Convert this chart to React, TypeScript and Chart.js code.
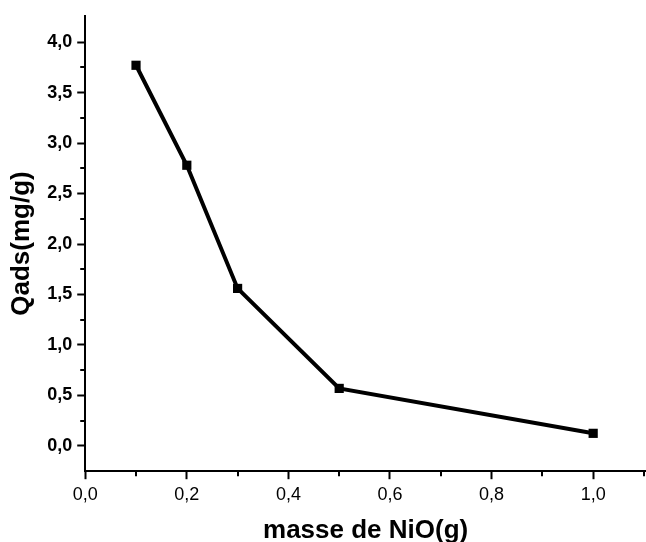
import React, { useEffect, useRef } from "react";
import { Chart, registerables } from "chart.js";

Chart.register(...registerables);

const masses = [0.1, 0.2, 0.3, 0.5, 1.0];
const qads = [3.77, 2.78, 1.56, 0.57, 0.125];
const xTickValues = [0, 0.1, 0.2, 0.3, 0.4, 0.5, 0.6, 0.7, 0.8, 0.9, 1.0, 1.1];
const yTickValues = [0, 0.25, 0.5, 0.75, 1.0, 1.25, 1.5, 1.75, 2.0, 2.25, 2.5, 2.75, 3.0, 3.25, 3.5, 3.75, 4.0];
const xTitle = "masse de NiO(g)";
const yTitle = "Qads(mg/g)";

const FONT = "'Liberation Sans', Arial, Helvetica, sans-serif";

const isMinorX = (v: number) => Math.round(v * 10) % 2 === 1;
const isMinorY = (v: number) => Math.round(v * 4) % 2 === 1;

const minorTickPlugin = {
  id: "minorTicks",
  afterDraw(chart: any) {
    const ctx = chart.ctx;
    const xs = chart.scales.x;
    const ys = chart.scales.y;
    ctx.save();
    ctx.strokeStyle = "#000";
    ctx.lineWidth = 2;
    ctx.beginPath();
    xs.ticks.forEach((t: any) => {
      if (isMinorX(t.value)) {
        const px = Math.round(xs.getPixelForValue(t.value));
        ctx.moveTo(px, xs.top);
        ctx.lineTo(px, xs.top + 5);
      }
    });
    ys.ticks.forEach((t: any) => {
      if (isMinorY(t.value)) {
        const py = Math.round(ys.getPixelForValue(t.value));
        ctx.moveTo(ys.right - 5, py);
        ctx.lineTo(ys.right, py);
      }
    });
    ctx.stroke();
    ctx.restore();
  },
};

export default function App() {
  const ref = useRef<HTMLCanvasElement | null>(null);
  useEffect(() => {
    if (!ref.current) return;
    const chart = new Chart(ref.current, {
      type: "line",
      data: {
        datasets: [
          {
            data: masses.map((m, i) => ({ x: m, y: qads[i] })),
            borderColor: "#000",
            backgroundColor: "#000",
            borderWidth: 4,
            pointStyle: "rect",
            pointRadius: 6.5,
            pointBackgroundColor: "#000",
            pointBorderWidth: 0,
            tension: 0,
            clip: false,
          },
        ],
      },
      options: {
        animation: false,
        responsive: false,
        maintainAspectRatio: false,
        layout: { autoPadding: false, padding: { top: 14, right: 0, left: 6, bottom: -4 } },
        plugins: { legend: { display: false }, tooltip: { enabled: false } },
        scales: {
          x: {
            type: "linear",
            min: 0,
            max: 1.104,
            afterBuildTicks: (s: any) => {
              s.ticks = xTickValues.map((v) => ({ value: v }));
            },
            afterFit: (s: any) => {
              s.paddingRight = 0;
            },
            border: { color: "#000", width: 2 },
            grid: {
              drawOnChartArea: false,
              drawTicks: true,
              tickLength: 8,
              tickWidth: 2,
              tickColor: (c: any) => (isMinorX(c.tick.value) ? "rgba(0,0,0,0)" : "#000"),
            },
            ticks: {
              color: "#000",
              padding: 5,
              maxRotation: 0,
              autoSkip: false,
              font: { family: FONT, size: 18 },
              callback: (v: any) => (isMinorX(Number(v)) ? "" : Number(v).toFixed(1).replace(".", ",")),
            },
            title: {
              display: true,
              text: xTitle,
              color: "#000",
              font: { family: FONT, size: 26, weight: "bold" },
              padding: { top: 4, bottom: 0 },
            },
          },
          y: {
            type: "linear",
            min: -0.25,
            max: 4.26,
            afterBuildTicks: (s: any) => {
              s.ticks = yTickValues.map((v) => ({ value: v }));
            },
            border: { color: "#000", width: 2 },
            grid: {
              drawOnChartArea: false,
              drawTicks: true,
              tickLength: 8,
              tickWidth: 2,
              tickColor: (c: any) => (isMinorY(c.tick.value) ? "rgba(0,0,0,0)" : "#000"),
            },
            ticks: {
              color: "#000",
              padding: 5,
              autoSkip: false,
              font: { family: FONT, size: 18, weight: "bold" },
              callback: (v: any) => (isMinorY(Number(v)) ? "" : Number(v).toFixed(1).replace(".", ",")),
            },
            title: {
              display: true,
              text: yTitle,
              color: "#000",
              font: { family: FONT, size: 26, weight: "bold" },
              padding: { top: 0, bottom: 5 },
            },
          },
        },
      },
      plugins: [minorTickPlugin],
    });
    return () => chart.destroy();
  }, []);
  return (
    <div style={{ position: "fixed", left: 0, top: 0, width: 646, height: 542, background: "#fff" }}>
      <canvas ref={ref} width={646} height={542} style={{ width: 646, height: 542, display: "block" }} />
    </div>
  );
}
